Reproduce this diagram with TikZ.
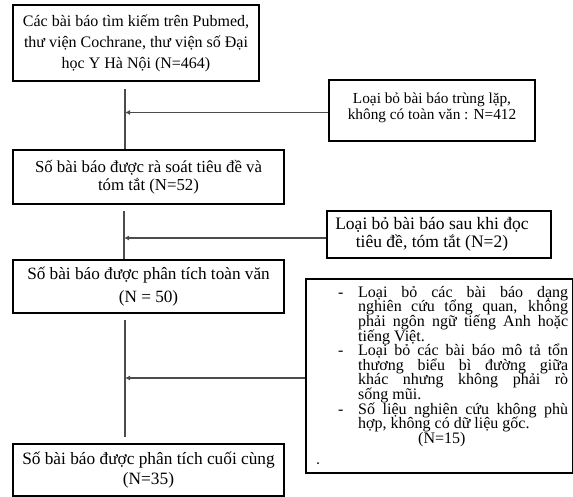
\documentclass[tikz,border=0pt]{standalone}
\usepackage{fontspec}
\setmainfont{Liberation Serif}
\usetikzlibrary{calc,arrows.meta}
\begin{document}
\begin{tikzpicture}[x=1pt,y=-1pt,
 box/.style={draw=black,line width=2pt,anchor=north west,inner sep=0pt,align=center},
 conn/.style={draw=black!70,line width=1.3pt},
 arr/.style={conn,-{Latex[length=5pt,width=5pt]}}]
\useasboundingbox (0,0) rectangle (573,496);
\node[box,minimum width=246pt,minimum height=76pt,font=\fontsize{16}{21}\selectfont] (b1) at (12,4)
 {Các bài báo tìm kiếm trên Pubmed,\\ thư viện Cochrane, thư viện số Đại\\ học Y Hà Nội (N=464)};
\node[box,minimum width=206pt,minimum height=61pt,font=\fontsize{15.3}{16.5}\selectfont] (b2) at (328,79)
 {Loại bỏ bài báo trùng lặp,\\ không có toàn văn : N=412\\[-8pt]\mbox{}};
\node[box,minimum width=271pt,minimum height=54pt,font=\fontsize{16.8}{18}\selectfont] (b3) at (12,149)
 {Số bài báo được rà soát tiêu đề và\\ tóm tắt (N=52)};
\node[box,minimum width=224pt,minimum height=47pt,font=\fontsize{17.5}{18}\selectfont] (b4) at (326,210)
 {Loại bỏ bài báo sau khi đọc\hspace*{14pt}\\ tiêu đề, tóm tắt (N=2)\hspace*{14pt}};
\node[box,minimum width=271pt,minimum height=53pt,font=\fontsize{17.2}{23}\selectfont] (b5) at (12,259)
 {Số bài báo được phân tích toàn văn\\ (N = 50)};
\node[box,minimum width=267pt,minimum height=194pt] (b6) at (305,278) {};
\node[anchor=north west,inner sep=0pt,text width=210pt,align=justify,
 font=\fontsize{16}{14.6}\selectfont] (b6t) at (358,286)
 {\lineskiplimit=-100pt\tolerance=10000\hyphenpenalty=10000\parindent=0pt
 \noindent\llap{\makebox[20pt][l]{-}}Loại bỏ các bài báo dạng\linebreak nghiên cứu tổng quan, không\linebreak phải ngôn ngữ tiếng Anh hoặc\linebreak tiếng Việt.\par
 \noindent\llap{\makebox[20pt][l]{-}}Loại bỏ các bài báo mô tả tổn\linebreak thương biểu bì đường giữa\linebreak khác nhưng không phải rò\linebreak sống mũi.\par
 \noindent\llap{\makebox[20pt][l]{-}}Số liệu nghiên cứu không phù\linebreak hợp, không có dữ liệu gốc.\par
 \noindent\hspace*{60pt}(N=15)\par};
\node[box,minimum width=271pt,minimum height=52pt,font=\fontsize{17.3}{20}\selectfont] (b7) at (12,443)
 {Số bài báo được phân tích cuối cùng\\ (N=35)};
\fill[black] (318,463) circle (1pt);
% spine
\coordinate (s1) at ($(b1.south west)+(113,7)$);
\coordinate (s2) at ($(b3.south west)+(112,6)$);
\coordinate (s3) at ($(b5.south west)+(113,6)$);
\draw[conn] (s1) -- (s1 |- b3.north);
\draw[conn] (s2) -- (s2 |- b5.north);
\draw[conn] (s3) -- ($(s3 |- b7.north)+(0,-6)$);
\draw[arr] ($(b2.west)+(0,2)$) -- ($(s1 |- b2.west)+(0,2)$);
\draw[arr] ($(b4.west)+(0,3.5)$) -- ($(s2 |- b4.west)+(0,3.5)$);
\draw[arr] ($(b6.west)+(0,2)$) -- ($(s3 |- b6.west)+(0,2)$);
\end{tikzpicture}
\end{document}
